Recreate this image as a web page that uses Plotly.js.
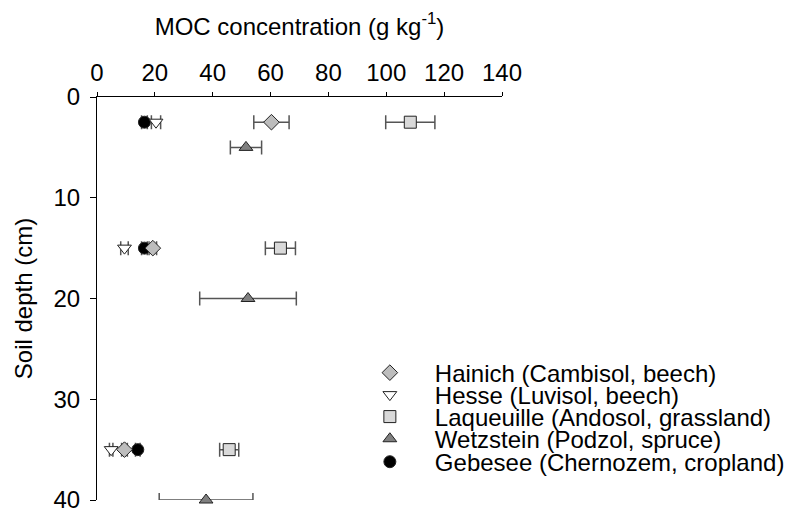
<!DOCTYPE html>
<html>
<head>
<meta charset="utf-8">
<script src="https://cdn.plot.ly/plotly-3.0.1.min.js"></script>
<style>
  body { margin: 0; background: #fff; }
  #chart { width: 800px; height: 509px; }
</style>
</head>
<body>
<div id="chart"></div>
<script>
// profondeurs (cm) et concentrations MOC (g/kg)
let hainichDepth = [2.5, 15, 35]
let hainichMoc = [60.3, 19.3, 9.5]
let hainichErr = [6.1, 1.3, 1.0]

let hesseDepth = [2.5, 15, 35]
let hesseMoc = [20.4, 9.5, 4.9]
let hesseErr = [1.6, 1.3, 0.6]

let laqueuilleDepth = [2.5, 15, 35]
let laqueuilleMoc = [108.3, 63.4, 45.7]
let laqueuilleErr = [8.5, 5.2, 3.3]

let wetzsteinDepth = [5, 20, 40]
let wetzsteinMoc = [51.5, 52.2, 37.7]
let wetzsteinErr = [5.4, 16.7, 16.2]

let gebeseeDepth = [2.5, 15, 35]
let gebeseeMoc = [16.4, 16.4, 14.1]
let gebeseeErr = [1.0, 1.0, 0.8]

let fontFam = 'Arial, "Liberation Sans", sans-serif'

/** Une légende par série : la légende unique de plotly espace trop les lignes à cette taille de police */
function serie(nom, x, y, err, symbole, couleur, leg){
    return {
        x: x, y: y, name: nom,
        type: 'scatter', mode: 'markers', cliponaxis: false,
        legend: leg,
        marker: { symbol: symbole, size: 12, color: couleur, line: { color: '#222', width: 1 } },
        error_x: { type: 'data', array: err, visible: true, color: '#555', thickness: 1.5, width: 7 }
    }
}

let data = [
    serie('Gebesee (Chernozem, cropland)', gebeseeMoc, gebeseeDepth, gebeseeErr, 'circle', '#000000', 'legend5'),
    serie('Hesse (Luvisol, beech)', hesseMoc, hesseDepth, hesseErr, 'triangle-down', '#ffffff', 'legend2'),
    serie('Hainich (Cambisol, beech)', hainichMoc, hainichDepth, hainichErr, 'diamond', '#bdbdbd', 'legend'),
    serie('Laqueuille (Andosol, grassland)', laqueuilleMoc, laqueuilleDepth, laqueuilleErr, 'square', '#d9d9d9', 'legend3'),
    serie('Wetzstein (Podzol, spruce)', wetzsteinMoc, wetzsteinDepth, wetzsteinErr, 'triangle-up', '#808080', 'legend4')
]

let legX = 0.612
let legY = [0.315, 0.2605, 0.206, 0.151, 0.094]
function leg(y){
    return {
        x: legX, y: y, xanchor: 'left', yanchor: 'middle',
        font: { size: 24 }, itemwidth: 80, bgcolor: 'rgba(0,0,0,0)'
    }
}

let layout = {
    width: 800, height: 509,
    paper_bgcolor: '#fff', plot_bgcolor: '#fff',
    font: { family: fontFam, size: 24, color: '#000' },
    margin: { l: 97, r: 298, t: 97, b: 9 },
    showlegend: true,
    legend: leg(legY[0]),
    legend2: leg(legY[1]),
    legend3: leg(legY[2]),
    legend4: leg(legY[3]),
    legend5: leg(legY[4]),
    xaxis: {
        side: 'top', range: [0, 140], dtick: 20,
        showline: true, linecolor: '#000', linewidth: 1,
        ticks: 'outside', ticklen: 4, tickcolor: '#000',
        showgrid: false, zeroline: false, ticklabelstandoff: 1,
        title: { text: 'MOC concentration (g kg<sup>-1</sup>)', standoff: 17, font: { size: 24 } },
        automargin: false
    },
    yaxis: {
        range: [40, 0], dtick: 10,
        showline: true, linecolor: '#000', linewidth: 1,
        ticks: 'outside', ticklen: 6, tickcolor: '#000',
        showgrid: false, zeroline: false, ticklabelstandoff: 5,
        ticklabeloverflow: 'allow',
        title: { text: 'Soil depth (cm)', standoff: 14, font: { size: 24 } },
        automargin: false
    }
}

Plotly.newPlot('chart', data, layout, { staticPlot: true })
</script>
</body>
</html>
